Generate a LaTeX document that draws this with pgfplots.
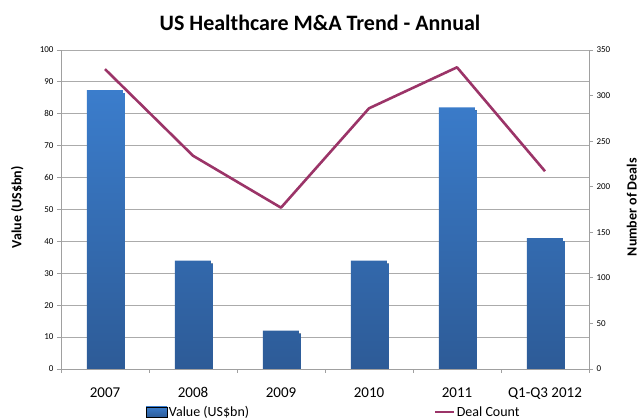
\documentclass[border=0pt]{standalone}
\usepackage{pgfplots}
\usepackage{pgfplotstable}
\pgfplotsset{compat=1.18}
\usepackage{fontspec}
\setmainfont{Carlito}
\usetikzlibrary{shadows}
\definecolor{barTop}{HTML}{3B7DCC}
\definecolor{barBot}{HTML}{2D5B97}
\definecolor{dealLine}{HTML}{9B3468}
\definecolor{gridGray}{HTML}{ABABAB}
\definecolor{axisGray}{HTML}{A0A0A0}

\pgfplotstableread{
x value deals
0 87.4 329
1 34   234
2 12   177
3 34   286
4 82   331
5 41   217
}\datatable

\pgfplotsset{
  common/.style={
    at={(61pt,51pt)}, anchor=south west,
    scale only axis, width=528pt, height=319pt,
    xmin=-0.5, xmax=5.5,
    tick align=outside,
    major tick length=4pt,
    minor tick length=4pt,
    tick style={axisGray, line width=0.8pt},
    axis line style={-, draw=axisGray, line width=0.9pt},
    /pgf/number format/assume math mode=true,
    yticklabel style={font=\fontsize{9}{10}\selectfont},
    ylabel style={font=\fontsize{14}{16}\selectfont\bfseries},
    clip=true,
  }
}

\begin{document}
\begin{tikzpicture}
\useasboundingbox (0,0) rectangle (640pt,420pt);
\node[font=\fontsize{22}{24}\selectfont\bfseries, anchor=base] at (320pt,389pt) {US Healthcare M\&A Trend - Annual};

\begin{axis}[
  common,
  ymin=0, ymax=100,
  axis y line*=left, axis x line*=bottom,
  ytick={0,10,...,100},
  ymajorgrids,
  grid style={gridGray, line width=0.8pt},
  xtick={0,1,2,3,4,5},
  xticklabels={2007,2008,2009,2010,2011,Q1-Q3 2012},
  major x tick style={draw=none},
  minor xtick={-0.5,0.5,1.5,2.5,3.5,4.5,5.5},
  xticklabel style={font=\fontsize{15}{17}\selectfont, yshift=-11pt},
  ylabel={Value (US\$bn)},
  ylabel style={at={(axis description cs:-0.083,0.507)}, anchor=center},
  legend style={draw=none, fill=none, inner sep=0pt, outer sep=0pt,
    nodes={inner sep=1.5pt, anchor=base west},
    font=\fontsize{14}{16}\selectfont,
    at={(axis description cs:0.161,-0.136)}, anchor=west},
  legend cell align=left,
]
\addplot[ybar, bar width=36pt, draw=none, top color=barTop, bottom color=barBot,
  drop shadow={shadow xshift=2pt, shadow yshift=-3pt, fill=black, opacity=1},
  forget plot] table[x=x, y=value] {\datatable};
\addlegendimage{legend image code/.code={\shade[top color=barTop,bottom color=barBot] (0pt,-0.5pt) rectangle (21pt,10pt);}}
\addlegendentry{Value (US\$bn)}
\end{axis}

\begin{axis}[
  common,
  ymin=0, ymax=350,
  axis y line*=right, axis x line=none,
  ytick={0,50,...,350},
  ylabel={Number of Deals},
  ylabel style={at={(axis description cs:1.081,0.507)}, anchor=center},
  legend style={draw=none, fill=none, inner sep=0pt, outer sep=0pt,
    nodes={inner sep=1.5pt, anchor=base west},
    font=\fontsize{14}{16}\selectfont,
    at={(axis description cs:0.706,-0.136)}, anchor=west},
  legend cell align=left,
]
\addplot[dealLine, line width=2.6pt, mark=none, line join=round,
  legend image code/.code={\draw[dealLine, line width=2.6pt] (0pt,4.5pt) -- (19pt,4.5pt);}]
  table[x=x, y=deals] {\datatable};
\addlegendentry{Deal Count}
\end{axis}
\end{tikzpicture}
\end{document}
